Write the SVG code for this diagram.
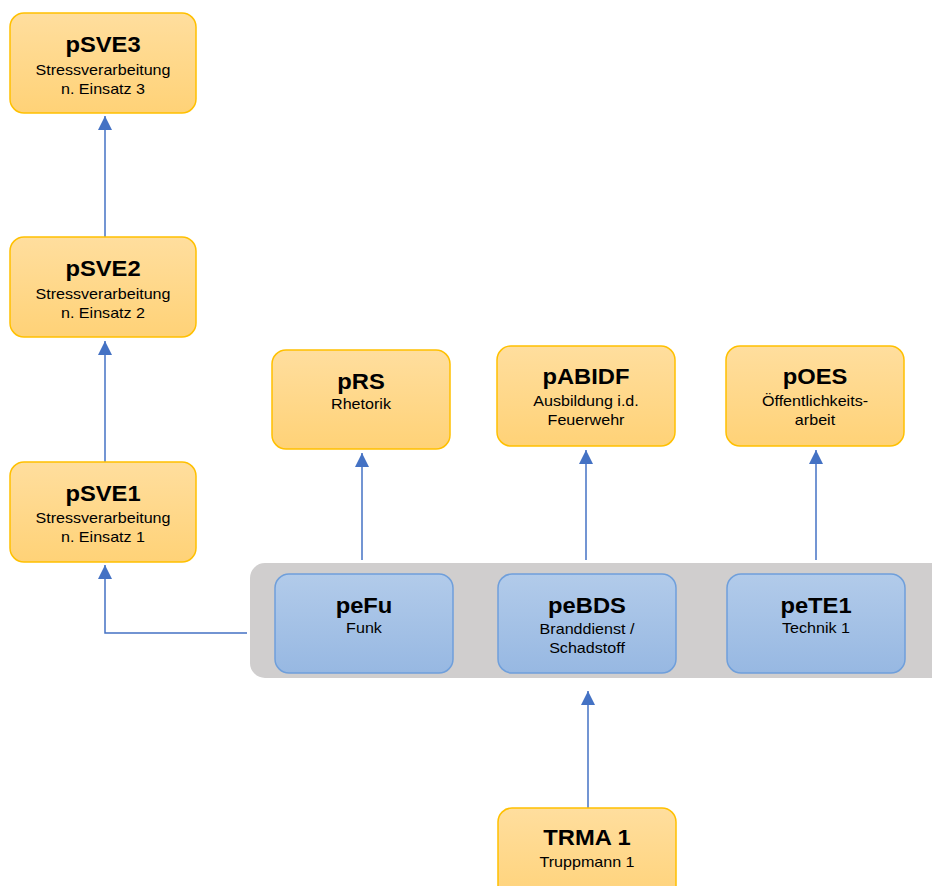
<svg xmlns="http://www.w3.org/2000/svg" width="932" height="886" viewBox="0 0 932 886">
<defs>
<linearGradient id="gOr" x1="0" y1="0" x2="0" y2="1">
<stop offset="0" stop-color="#FFDE9E"/>
<stop offset="1" stop-color="#FFD277"/>
</linearGradient>
<linearGradient id="gBl" x1="0" y1="0" x2="0" y2="1">
<stop offset="0" stop-color="#B2CBEA"/>
<stop offset="1" stop-color="#97B8E2"/>
</linearGradient>
<marker id="ah" viewBox="0 0 14 14" refX="14" refY="7" markerWidth="14" markerHeight="14" markerUnits="userSpaceOnUse" orient="auto">
<path d="M0,0 L14,7 L0,14 z" fill="#4472C4"/>
</marker>
<style>
.or{fill:url(#gOr);stroke:#FFC000;stroke-width:1.5}
.bl{fill:url(#gBl);stroke:#6F9FDB;stroke-width:1.5}
.grp{fill:#D0CECE}
.t{font-family:"Liberation Sans",Arial,sans-serif;font-weight:bold;font-size:22px;text-anchor:middle;fill:#000}
.s{font-family:"Liberation Sans",Arial,sans-serif;font-size:14px;text-anchor:middle;fill:#000}
.c{fill:none;stroke:#4472C4;stroke-width:1.5;marker-end:url(#ah)}
</style>
</defs>

<rect id="container" class="grp" x="250" y="563" width="700" height="115" rx="15"/>

<g id="connectors">
<line class="c" x1="105" y1="237" x2="105" y2="116"/>
<line class="c" x1="105" y1="462" x2="105" y2="341"/>
<path class="c" d="M247,633 H105 V565"/>
<line class="c" x1="362" y1="560" x2="362" y2="453"/>
<line class="c" x1="586" y1="560" x2="586" y2="450"/>
<line class="c" x1="816" y1="560" x2="816" y2="450"/>
<line class="c" x1="588" y1="808" x2="588" y2="691"/>
</g>

<g id="pSVE3">
<rect class="or" x="10" y="13" width="186" height="100" rx="14"/>
<text class="t" transform="translate(103,52) scale(1.08,1)">pSVE3</text>
<text class="s" transform="translate(103,75) scale(1.15,1)">Stressverarbeitung</text>
<text class="s" transform="translate(103,94) scale(1.15,1)">n. Einsatz 3</text>
</g>

<g id="pSVE2">
<rect class="or" x="10" y="237" width="186" height="100" rx="14"/>
<text class="t" transform="translate(103,276) scale(1.08,1)">pSVE2</text>
<text class="s" transform="translate(103,299) scale(1.15,1)">Stressverarbeitung</text>
<text class="s" transform="translate(103,318) scale(1.15,1)">n. Einsatz 2</text>
</g>

<g id="pSVE1">
<rect class="or" x="10" y="462" width="186" height="100" rx="14"/>
<text class="t" transform="translate(103,501) scale(1.08,1)">pSVE1</text>
<text class="s" transform="translate(103,523) scale(1.15,1)">Stressverarbeitung</text>
<text class="s" transform="translate(103,542) scale(1.15,1)">n. Einsatz 1</text>
</g>

<g id="pRS">
<rect class="or" x="272" y="350" width="178" height="99" rx="14"/>
<text class="t" transform="translate(361,389) scale(1.08,1)">pRS</text>
<text class="s" transform="translate(361,409) scale(1.15,1)">Rhetorik</text>
</g>

<g id="pABIDF">
<rect class="or" x="497" y="346" width="178" height="100" rx="14"/>
<text class="t" transform="translate(586,384) scale(1.08,1)">pABIDF</text>
<text class="s" transform="translate(586,406) scale(1.15,1)">Ausbildung i.d.</text>
<text class="s" transform="translate(586,425) scale(1.15,1)">Feuerwehr</text>
</g>

<g id="pOES">
<rect class="or" x="726" y="346" width="178" height="100" rx="14"/>
<text class="t" transform="translate(815,384) scale(1.08,1)">pOES</text>
<text class="s" transform="translate(815,406) scale(1.15,1)">Öffentlichkeits-</text>
<text class="s" transform="translate(815,425) scale(1.15,1)">arbeit</text>
</g>

<g id="peFu">
<rect class="bl" x="275" y="574" width="178" height="99" rx="14"/>
<text class="t" transform="translate(364,613) scale(1.08,1)">peFu</text>
<text class="s" transform="translate(364,633) scale(1.15,1)">Funk</text>
</g>

<g id="peBDS">
<rect class="bl" x="498" y="574" width="178" height="99" rx="14"/>
<text class="t" transform="translate(587,613) scale(1.08,1)">peBDS</text>
<text class="s" transform="translate(587,634) scale(1.15,1)">Branddienst /</text>
<text class="s" transform="translate(587,653) scale(1.15,1)">Schadstoff</text>
</g>

<g id="peTE1">
<rect class="bl" x="727" y="574" width="178" height="99" rx="14"/>
<text class="t" transform="translate(816,613) scale(1.08,1)">peTE1</text>
<text class="s" transform="translate(816,633) scale(1.15,1)">Technik 1</text>
</g>

<g id="TRMA1">
<rect class="or" x="498" y="808" width="178" height="100" rx="14"/>
<text class="t" transform="translate(587,845) scale(1.08,1)">TRMA 1</text>
<text class="s" transform="translate(587,867) scale(1.15,1)">Truppmann 1</text>
</g>
</svg>
